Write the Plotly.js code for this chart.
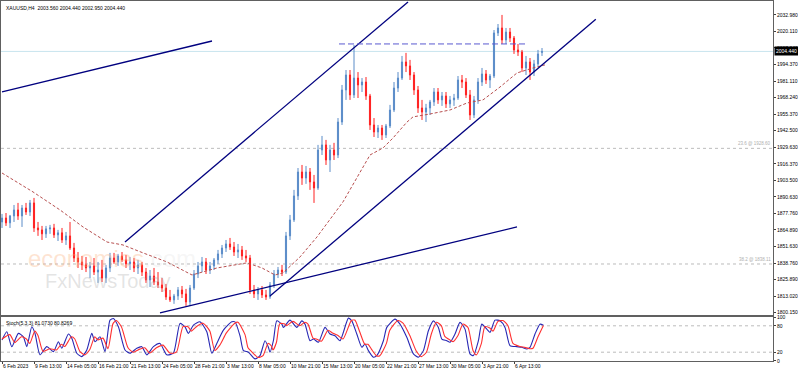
<!DOCTYPE html>
<html><head><meta charset="utf-8">
<script src="https://cdn.plot.ly/plotly-3.0.1.min.js"></script>
<style>html,body{margin:0;padding:0;background:#fff}#c{width:798px;height:372px}</style>
</head><body><div id="c"></div>
<script>
// ---- Candles (each = 2 H4 bars) ----
const open = [1871.0,1874.1,1870.3,1875.7,1880.4,1875.7,1881.9,1878.8,1885.9,1866.3,
1864.8,1861.7,1865.6,1866.3,1860.9,1862.5,1856.9,1860.1,1850.6,1842.8,
1839.7,1837.4,1835.0,1836.6,1831.8,1833.4,1827.1,1835.0,1842.8,1839.7,
1844.4,1841.3,1838.2,1839.7,1835.0,1837.4,1831.8,1825.6,1828.7,1824.0,
1821.7,1819.3,1812.3,1810.0,1813.1,1817.8,1814.7,1808.4,1819.3,1830.3,
1836.6,1839.7,1833.4,1836.6,1841.3,1846.0,1850.6,1853.8,1851.4,1847.5,
1849.1,1844.4,1842.8,1817.8,1814.7,1817.8,1813.9,1812.3,1821.7,1830.3,
1833.4,1831.8,1860.1,1872.6,1891.4,1910.1,1905.4,1910.1,1902.3,1897.6,
1927.3,1931.3,1919.5,1927.3,1923.4,1949.2,1974.3,1986.0,1970.4,1983.6,
1978.2,1980.5,1969.6,1946.9,1941.4,1944.5,1939.1,1946.1,1958.6,1975.8,
1983.6,1996.2,1993.1,1986.0,1974.3,1960.2,1957.0,1960.2,1964.9,1972.7,
1966.5,1969.6,1963.4,1966.5,1968.0,1982.1,1980.5,1970.4,1954.7,1966.5,
1980.5,1986.8,1982.1,1985.2,2018.9,2022.8,2013.4,2019.6,2014.9,2005.6,
2004.0,1991.5,1996.2,1988.3,1994.7,2003.56];
const high = [1877.3,1878.0,1876.5,1884.3,1885.9,1884.3,1885.9,1888.2,1889.8,1871.0,
1867.9,1867.9,1868.7,1869.5,1864.8,1866.3,1863.2,1871.0,1854.6,1847.5,
1844.4,1843.6,1839.7,1842.8,1839.7,1841.3,1837.4,1846.8,1846.8,1846.0,
1847.5,1845.2,1843.6,1842.8,1841.3,1839.7,1835.0,1833.4,1835.0,1831.8,
1827.1,1822.5,1817.8,1814.7,1820.1,1820.9,1818.6,1821.7,1833.4,1839.7,
1843.6,1842.8,1839.7,1842.8,1849.1,1853.0,1856.9,1858.5,1855.3,1853.8,
1852.2,1849.1,1845.2,1821.7,1820.1,1820.9,1817.8,1824.0,1833.4,1835.8,
1837.4,1863.2,1876.5,1896.1,1913.2,1915.6,1914.8,1913.2,1907.8,1931.3,
1938.3,1935.2,1931.3,1932.9,1952.3,1978.2,1989.9,1989.9,2009.5,1988.3,
1983.6,1984.4,1971.2,1952.3,1946.9,1946.9,1947.7,1962.6,1980.5,1988.3,
2000.9,2003.3,1997.8,1988.3,1977.4,1966.5,1963.4,1966.5,1975.8,1975.8,
1972.7,1972.7,1969.6,1971.2,1985.2,1986.0,1983.6,1974.3,1969.6,1983.6,
1991.5,1989.9,1986.8,2021.2,2025.9,2033.0,2022.8,2022.8,2016.5,2010.3,
2005.6,2000.9,1999.3,1997.8,2005.6,2007.1];
const low = [1866.3,1867.9,1866.3,1871.0,1872.6,1867.1,1876.5,1875.7,1863.2,1860.1,
1856.9,1858.5,1861.7,1858.5,1856.1,1854.6,1853.0,1849.1,1839.7,1835.0,
1833.4,1831.8,1827.1,1829.5,1823.3,1824.0,1823.3,1831.8,1838.2,1836.6,
1839.7,1835.0,1833.4,1831.8,1830.3,1828.7,1823.3,1820.1,1821.7,1819.3,
1816.2,1810.0,1808.4,1806.9,1810.0,1811.5,1805.3,1805.3,1817.8,1827.1,
1831.8,1830.3,1830.3,1833.4,1838.2,1842.8,1847.5,1849.1,1844.4,1842.8,
1841.3,1839.7,1814.7,1811.5,1810.0,1811.5,1810.0,1810.8,1819.3,1827.1,
1828.7,1830.3,1856.9,1871.0,1888.2,1900.0,1900.8,1896.1,1885.9,1896.1,
1923.4,1915.6,1910.1,1919.5,1921.0,1946.9,1966.5,1966.5,1968.0,1968.0,
1972.7,1966.5,1943.0,1937.5,1936.7,1935.2,1936.7,1944.5,1957.0,1972.7,
1982.1,1988.3,1982.1,1970.4,1956.3,1950.8,1949.2,1954.7,1961.8,1963.4,
1961.8,1960.2,1960.2,1961.8,1966.5,1975.8,1968.0,1950.8,1952.3,1963.4,
1977.4,1979.0,1975.8,1983.6,2016.5,2010.3,2010.3,2011.8,2002.5,2000.9,
1988.3,1986.0,1982.1,1985.2,1993.1,2000.9];
const close = [1874.1,1870.3,1875.7,1880.4,1875.7,1881.9,1878.8,1885.9,1866.3,1864.8,
1861.7,1865.6,1866.3,1860.9,1862.5,1856.9,1860.1,1850.6,1842.8,1839.7,
1837.4,1835.0,1836.6,1831.8,1833.4,1827.1,1835.0,1842.8,1839.7,1844.4,
1841.3,1838.2,1839.7,1835.0,1837.4,1831.8,1825.6,1828.7,1824.0,1821.7,
1819.3,1812.3,1810.0,1813.1,1817.8,1814.7,1808.4,1819.3,1830.3,1836.6,
1839.7,1833.4,1836.6,1841.3,1846.0,1850.6,1853.8,1851.4,1847.5,1849.1,
1844.4,1842.8,1817.8,1814.7,1817.8,1813.9,1812.3,1821.7,1830.3,1833.4,
1831.8,1860.1,1872.6,1891.4,1910.1,1905.4,1910.1,1902.3,1897.6,1927.3,
1931.3,1919.5,1927.3,1923.4,1949.2,1974.3,1986.0,1970.4,1983.6,1978.2,
1980.5,1969.6,1946.9,1941.4,1944.5,1939.1,1946.1,1958.6,1975.8,1983.6,
1996.2,1993.1,1986.0,1974.3,1960.2,1957.0,1960.2,1964.9,1972.7,1966.5,
1969.6,1963.4,1966.5,1968.0,1982.1,1980.5,1970.4,1954.7,1966.5,1980.5,
1986.8,1982.1,1985.2,2018.9,2022.8,2013.4,2019.6,2014.9,2005.6,2004.0,
1991.5,1996.2,1988.3,1994.7,2002.5,2004.44];

// ---- Moving average (bar index, price) ----
const maX = [0,15.5,29,40.5,52.5,60.5,70.5,82.5,95,107.5,122.5,130,136.5,140.5,149,157.5,170.5,179,184,190.5,195.5,202.5,205.5,214,224,232.5,240.5,249,257.5,265.5,271.5];
const maY = [1909.3,1894.5,1880.4,1867.1,1855.3,1853.0,1846.8,1839.7,1829.5,1835.0,1839.0,1835.0,1829.5,1831.1,1843.6,1859.3,1886.7,1910.1,1923.4,1928.9,1936.7,1949.2,1953.2,1955.5,1958.6,1964.1,1966.5,1976.6,1987.6,1991.5,1993.9];

// ---- Drawn lines ----
const lineA_x = [0,105], lineA_y = [1972.7,2012.6];
const lineB_x = [61.5,203], lineB_y = [1855.4,2043.2];
const lineC_x = [134,296.9], lineC_y = [1813.1,2029.6];
const lineD_x = [79,257.5], lineD_y = [1799.8,1867.1];
const resist_x = [168.5,263], resist_y = [2010.3,2010.3];
const lastPrice = 2004.44;
const fibLevels = [1928.6, 1838.11];
const fibLabels = ['23.6 @ 1928.60', '38.2 @ 1838.11'];

// ---- Stochastic ----
const stKx = [0,2.4,4.9,8.2,10.7,12.4,14.9,16.5,19,22.4,25.7,28.2,29.9,33.2,34.9,37.4,39.9,42.4,44.9,46.5,49,51.5,54,55.7,58.2,61.5,64,67.4,69.9,72.4,75.7,79,82.4,85.7,89,91.5,93.2,95.7,99,102.4,104.9,107.4,110.7,114.9,116.5,119,120.7,123.2,126.5,129,131.5,133.2,134,135.7,137.4,139.9,140.7,144,147.4,149.9,151.5,154,155.7,158.2,161.5,164,166.5,169,173.2,174.9,177.4,179.9,181.5,183.2,185.7,187.4,190.7,192.4,196.5,199,202.4,205.7,208.2,210.7,213.2,215.7,218.2,219.9,222.4,224,226.5,229,231.5,234,235.7,238.2,239.9,242.4,244,246.5,249,251.5,254,257.4,259.9,262.4,264,266.5,269,270.7];
const stKy = [47.7,66.5,32.6,62.8,55,32.6,77.7,62.8,14,32.6,21.3,43.9,29,61.3,51.6,17.7,10,25,62.8,43.9,55,21.3,92.9,96.7,77.7,25,17.7,29,32.6,14,32.6,40,14,17.7,85.4,77.7,62.8,81.6,89,66.5,17.7,40,70.3,89,89,57.4,23.6,20,4.8,12.3,46.1,31.2,20,46.1,91.3,83.8,76.4,92.9,76.4,91.3,83.8,46.1,50,42.5,76.4,61.3,57.4,46.1,97.4,91.3,61.3,31.2,38.7,23.6,8.7,12.3,46.1,76.4,95.1,83.8,53.8,16.1,8.7,23.6,68.7,91.3,76.4,50,46.1,42.5,61.3,87.7,72.5,16.1,12.3,46.1,83.8,72.5,65.1,92.9,91.3,76.4,34.9,32.6,31.2,27.4,31.2,61.3,83.8,81.07];
const stDx = [0,3.9,6.4,9.7,12.2,13.9,16.4,18,20.5,23.9,27.2,29.7,31.4,34.7,36.4,38.9,41.4,43.9,46.4,48,50.5,53,55.5,57.2,59.7,63,65.5,68.9,71.4,73.9,77.2,80.5,83.9,87.2,90.5,93,94.7,97.2,100.5,103.9,106.4,108.9,112.2,116.4,118,121.5,123,124.7,128,130.5,133,134.7,135.5,137.2,138.9,141.4,142.2,145.5,148.9,151.4,153,155.5,157.2,159.7,163,165.5,168,170.5,174.7,176.4,178.9,181.4,183,184.7,187.2,188.9,192.2,193.9,198,200.5,203.9,207.2,209.7,212.2,214.7,217.2,219.7,221.4,223.9,225.5,228,230.5,233,235.5,237.2,239.7,241.4,243.9,245.5,248,250.5,253,255.5,258.9,261.4,263.9,265.5,268,270.7];
const stDy = [50,60,42,55,50,40,68,58,22,28,25,38,33,55,50,22,14,26,55,48,52,28,85,92,78,30,20,27,30,18,30,36,18,20,78,78,68,78,86,68,24,36,64,86,88,60,30,22,8,12,40,34,25,42,85,84,80,90,80,88,84,52,50,45,70,63,58,50,92,93,66,38,38,27,12,12,40,70,92,86,58,22,10,20,62,88,80,56,48,44,58,84,76,24,14,40,78,75,68,90,92,80,40,33,31,28,29,55,80.83];
const stLevels = [20, 80];

// ---- Axis labels ----
const yTicks = [2032.98,2020.11,2007.24,1994.37,1981.11,1968.24,1955.37,1942.5,1929.63,1916.37,1903.5,1890.63,1877.76,1864.89,1851.63,1838.76,1825.89,1813.02,1800.15];
const yTickText = ['2032.980','2020.110','2007.240','1994.370','1981.110','1968.240','1955.370','1942.500','1929.630','1916.370','1903.500','1890.630','1877.760','1864.890','1851.630','1838.760','1825.890','1813.020','1800.150'];
const xTicks = [0,16,32,48,64,80,96,112,128,144,160,176,192,208,224,240,256];
const xTickText = ['6 Feb 2023','9 Feb 13:00','14 Feb 05:00','16 Feb 21:00','21 Feb 13:00','24 Feb 05:00','28 Feb 21:00','3 Mar 13:00','8 Mar 05:00','10 Mar 21:00','15 Mar 13:00','20 Mar 05:00','22 Mar 21:00','27 Mar 13:00','30 Mar 05:00','3 Apr 21:00','6 Apr 13:00'];

const candleX = open.map((_, k) => 2 * k);
const F = 'Liberation Sans, Arial, sans-serif';
const navy = '#00007f';

const traces = [
  {type:'scatter', mode:'lines', x:lineB_x, y:lineB_y, line:{color:navy, width:1.3}, xaxis:'x', yaxis:'y', showlegend:false},
  {type:'candlestick', x:candleX, open:open, high:high, low:low, close:close, xaxis:'x', yaxis:'y',
   increasing:{line:{color:'#5a8cc8', width:1}, fillcolor:'#5a8cc8'},
   decreasing:{line:{color:'#ff2020', width:1}, fillcolor:'#ff2020'},
   whiskerwidth:0, hoverinfo:'skip', showlegend:false},
  {type:'scatter', mode:'lines', x:maX, y:maY, line:{color:'#b85050', width:1, dash:'3px,2px'}, xaxis:'x', yaxis:'y', showlegend:false, hoverinfo:'skip'},
  {type:'scatter', mode:'lines', x:lineA_x, y:lineA_y, line:{color:navy, width:1.3}, xaxis:'x', yaxis:'y', showlegend:false},
  {type:'scatter', mode:'lines', x:lineC_x, y:lineC_y, line:{color:navy, width:1.3}, xaxis:'x', yaxis:'y', showlegend:false},
  {type:'scatter', mode:'lines', x:lineD_x, y:lineD_y, line:{color:navy, width:1.3}, xaxis:'x', yaxis:'y', showlegend:false},
  {type:'scatter', mode:'lines', x:resist_x, y:resist_y, line:{color:'#5a5ad0', width:1, dash:'6px,3px'}, xaxis:'x', yaxis:'y', showlegend:false},
  {type:'scatter', mode:'lines', x:stKx, y:stKy, line:{color:'#2828b4', width:1.1, shape:'spline', smoothing:0.6}, xaxis:'x2', yaxis:'y2', showlegend:false},
  {type:'scatter', mode:'lines', x:stDx, y:stDy, line:{color:'#ff3030', width:1.1, shape:'spline', smoothing:0.6}, xaxis:'x2', yaxis:'y2', showlegend:false}
];

const shapes = [
  {type:'line', xref:'paper', x0:0, x1:1, yref:'y', y0:lastPrice, y1:lastPrice, line:{color:'#c8e4ee', width:1}, layer:'below'}
];
fibLevels.forEach(v => shapes.push({type:'line', xref:'paper', x0:0, x1:1, yref:'y', y0:v, y1:v, line:{color:'#bcbcbc', width:1, dash:'dot'}, layer:'below'}));
stLevels.forEach(v => shapes.push({type:'line', xref:'paper', x0:0, x1:1, yref:'y2', y0:v, y1:v, line:{color:'#bcbcbc', width:1, dash:'dot'}, layer:'below'}));

const annotations = [
  {xref:'paper', yref:'paper', x:0, y:1, xanchor:'left', yanchor:'top', xshift:3, yshift:-2, showarrow:false,
   text:'XAUUSD,H4  2003.560 2004.440 2002.950 2004.440', font:{family:F, size:5, color:'#000'}},
  {xref:'paper', yref:'y2', x:0, y:100, xanchor:'left', yanchor:'top', xshift:3, yshift:-1, showarrow:false,
   text:'Stoch(5,3,3) 81.0730 80.8269', font:{family:F, size:5, color:'#000'}},
  {xref:'paper', yref:'y', x:1, y:lastPrice, xanchor:'left', yanchor:'middle', xshift:1, showarrow:false,
   text:'2004.440', bgcolor:'#000', borderpad:1, font:{family:F, size:5, color:'#fff'}},
  {xref:'x', yref:'y', x:55, y:1842.5, xanchor:'center', yanchor:'middle', showarrow:false,
   text:'economies<span style="color:rgba(200,200,200,0.5)">.com</span>', font:{family:'Liberation Sans, Arial', size:24, color:'rgba(252,175,125,0.35)'}},
  {xref:'x', yref:'y', x:53, y:1824.5, xanchor:'center', yanchor:'middle', showarrow:false,
   text:'FxNewsToday', font:{family:'Liberation Sans, Arial', size:20, color:'rgba(170,170,170,0.32)'}}
];
fibLevels.forEach((v, i) => annotations.push({xref:'paper', yref:'y', x:1, y:v, xanchor:'right', yanchor:'bottom', showarrow:false,
   text:fibLabels[i], font:{family:F, size:4.5, color:'#b0b0b0'}}));

const layout = {
  width:798, height:372, paper_bgcolor:'#fff', plot_bgcolor:'#fff',
  margin:{l:1, r:25, t:1, b:11}, showlegend:false, boxgap:0.6, hovermode:false,
  xaxis:{domain:[0,1], anchor:'y', range:[-0.5,385.5], showticklabels:false, ticks:'', showgrid:false, zeroline:false,
         showline:true, mirror:true, linecolor:'#606060', linewidth:1, rangeslider:{visible:false}, fixedrange:true},
  xaxis2:{domain:[0,1], anchor:'y2', matches:'x', range:[-0.5,385.5], showgrid:false, zeroline:false,
          showline:true, mirror:true, linecolor:'#606060', linewidth:1,
          tickmode:'array', tickvals:xTicks, ticktext:xTickText, ticks:'outside', ticklen:2, tickcolor:'#404040',
          tickangle:0, ticklabelposition:'outside right', tickfont:{family:F, size:5, color:'#000'}},
  yaxis:{domain:[0.1278,1], anchor:'x', side:'right', range:[1798.2,2043.9], showgrid:false, zeroline:false,
         showline:true, mirror:true, linecolor:'#606060', linewidth:1,
         tickmode:'array', tickvals:yTicks, ticktext:yTickText, ticks:'outside', ticklen:2, tickcolor:'#404040',
         tickfont:{family:F, size:5, color:'#000'}},
  yaxis2:{domain:[0,0.1222], anchor:'x2', side:'right', range:[0,100], showgrid:false, zeroline:false,
          showline:true, mirror:true, linecolor:'#606060', linewidth:1,
          tickmode:'array', tickvals:[0,20,80,100], ticktext:['0','20','80','100'], ticks:'outside', ticklen:2, tickcolor:'#404040',
          tickfont:{family:F, size:5, color:'#000'}},
  shapes:shapes, annotations:annotations
};
Plotly.newPlot('c', traces, layout, {displayModeBar:false, staticPlot:true});
</script></body></html>
